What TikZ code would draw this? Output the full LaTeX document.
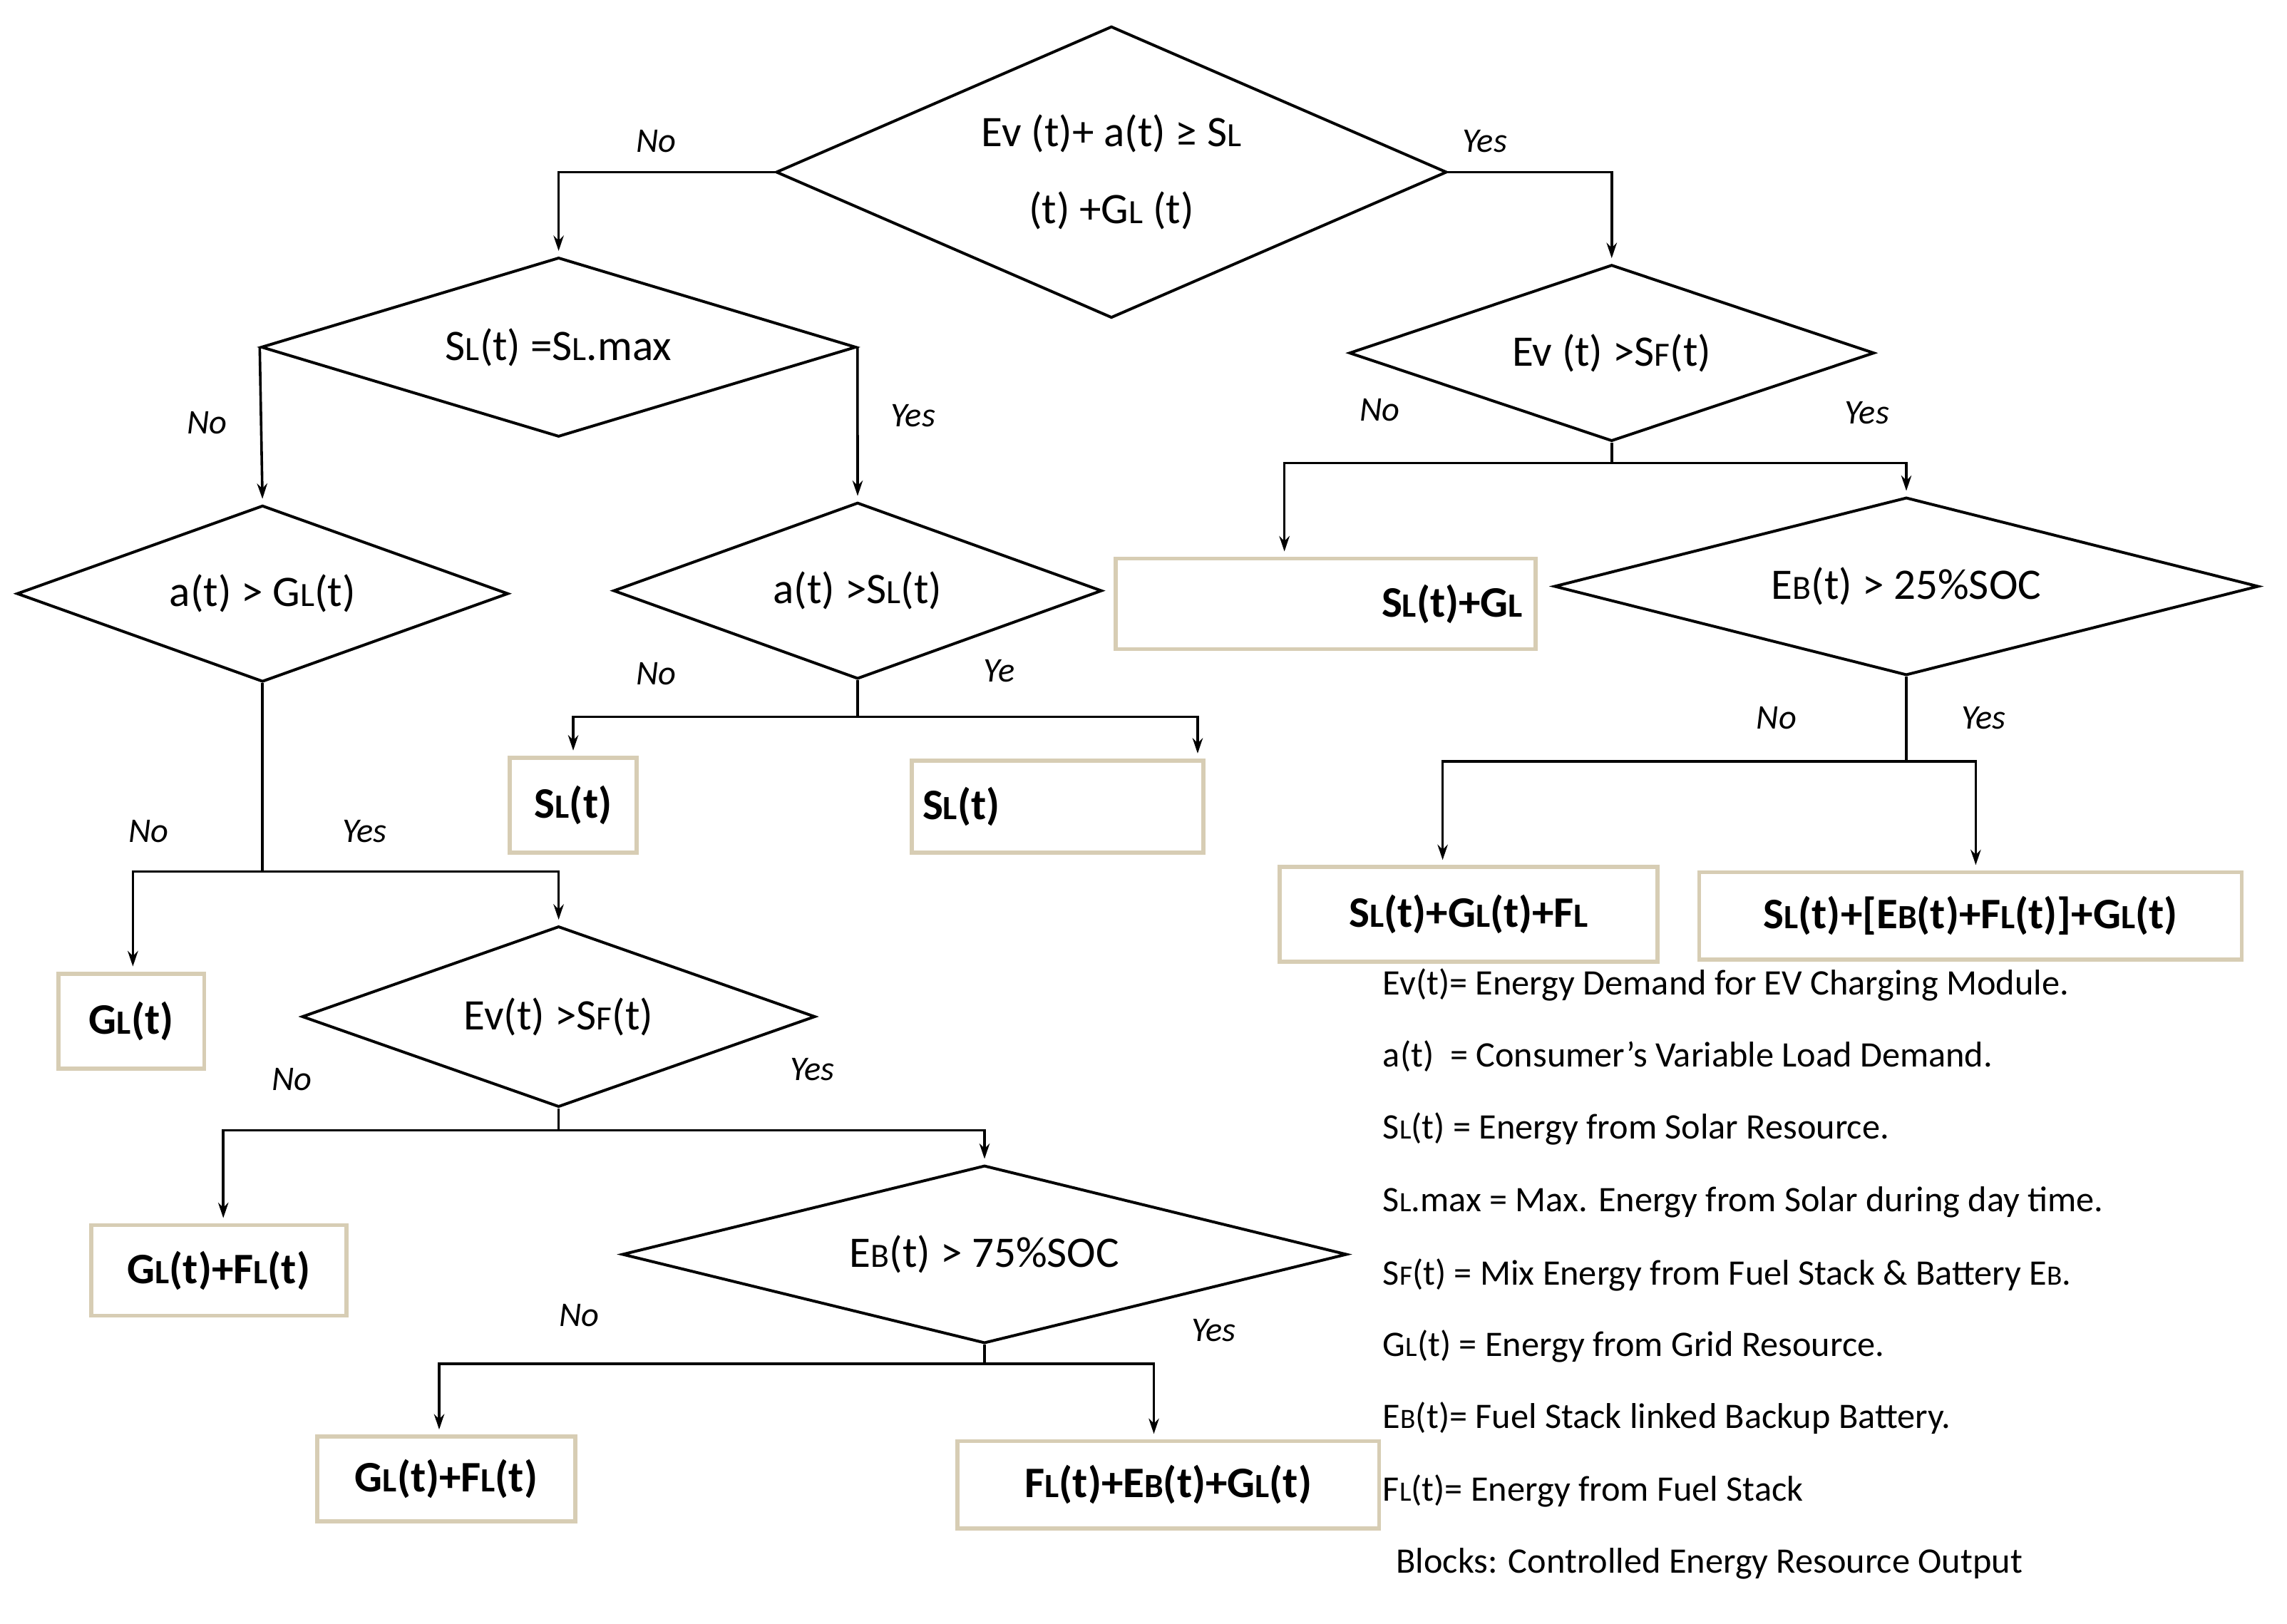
\documentclass[tikz,border=0pt]{standalone}
\usepackage{fontspec}
\setmainfont{Carlito}
\usetikzlibrary{arrows.meta, positioning, shapes.geometric}
\newcommand\smc[1]{\scalebox{0.78}{#1}}
\begin{document}
\begin{tikzpicture}[x=0.02cm, y=-0.02cm,
  dia/.style={draw, diamond, line width=1.1pt, inner sep=0pt},
  txt/.style={font=\fontsize{17}{20}\selectfont, align=center},
  blk/.style={draw={rgb,255:red,215;green,205;blue,180}, line width=1.6pt, inner sep=2pt, font=\bfseries\fontsize{17}{20}\selectfont},
  lbl/.style={font=\itshape\fontsize{13.5}{15}\selectfont},
  arr/.style={line width=1pt, -{Stealth[length=6pt,width=4pt]}, shorten >=2pt},
  ln/.style={line width=1pt},
  leg/.style={anchor=west, font=\fontsize{14}{16}\selectfont}]
\useasboundingbox (0,0) rectangle (1568,1113);

% decisions
\node[dia, minimum width=9.2cm, minimum height=4cm] (d1) at (762,118) {};
\node[txt] at (d1) {Ev (t)+ a(t) ≥ S\smc{L}\\[10pt](t) +G\smc{L} (t)};
\node[dia, minimum width=8.16cm, minimum height=2.46cm] (d2) at (383,238) {};
\node[txt] at (d2) {S\smc{L}(t) =S\smc{L}.max};
\node[dia, minimum width=6.74cm, minimum height=2.42cm] (d3) at (180,407) {};
\node[txt] at (d3) {a(t) > G\smc{L}(t)};
\node[dia, minimum width=6.7cm, minimum height=2.42cm] (d4) at (588,405) {};
\node[txt] at (d4) {a(t) >S\smc{L}(t)};
\node[dia, minimum width=7.04cm, minimum height=2.48cm] (d5) at (383,697) {};
\node[txt] at (d5) {Ev(t) >S\smc{F}(t)};
\node[dia, minimum width=9.94cm, minimum height=2.44cm] (d6) at (675,860) {};
\node[txt] at (d6) {E\smc{B}(t) > 75\%SOC};
\node[dia, minimum width=7.2cm, minimum height=2.42cm] (d7) at (1105,242) {};
\node[txt] at (d7) {Ev (t) >S\smc{F}(t)};
\node[dia, minimum width=9.66cm, minimum height=2.44cm] (d8) at (1307,402) {};
\node[txt] at (d8) {E\smc{B}(t) > 25\%SOC};

% output blocks
\node[blk, minimum width=1.74cm, minimum height=1.3cm] (b1) at (393,552) {S\smc{L}(t)};
\node[blk, minimum width=4cm, minimum height=1.26cm, text width=3.7cm, align=left] (b2) at (725,553) {S\smc{L}(t)};
\node[blk, minimum width=2cm, minimum height=1.3cm] (b3) at (90,700) {G\smc{L}(t)};
\node[blk, minimum width=3.5cm, minimum height=1.24cm] (b4) at (150,871) {G\smc{L}(t)+F\smc{L}(t)};
\node[blk, minimum width=3.54cm, minimum height=1.16cm] (b5) at (306,1014) {G\smc{L}(t)+F\smc{L}(t)};
\node[blk, minimum width=5.78cm, minimum height=1.2cm] (b6) at (801,1018) {F\smc{L}(t)+E\smc{B}(t)+G\smc{L}(t)};
\node[blk, minimum width=5.76cm, minimum height=1.24cm, text width=5.4cm, align=right] (b7) at (909,414) {S\smc{L}(t)+G\smc{L}\hspace*{1.4cm}};
\node[blk, minimum width=5.18cm, minimum height=1.3cm] (b8) at (1007,627) {S\smc{L}(t)+G\smc{L}(t)+F\smc{L}};
\node[blk, minimum width=7.44cm, minimum height=1.2cm] (b9) at (1351,628) {S\smc{L}(t)+[E\smc{B}(t)+F\smc{L}(t)]+G\smc{L}(t)};

% connectors
\draw[arr] (d1.west) -| (d2.north);
\draw[arr] (d1.east) -| (d7.north);
\draw[arr] (d2.west) -- (d3.north);
\draw[arr] (d2.east) -- (d4.north);
\draw[ln] (d4.south) -- ++(0,25) coordinate (j4);
\draw[arr] (j4) -| (b1.north);
\draw[arr] (j4) -| ([xshift=-3pt]b2.north east);
\draw[ln] (d3.south) -- ++(0,129) coordinate (j3);
\draw[arr] (j3) -| ([xshift=1.05cm]b3.north west);
\draw[arr] (j3) -| (d5.north);
\draw[ln] (d5.south) -- ++(0,15) coordinate (j5);
\draw[arr] (j5) -| ([xshift=1.84cm]b4.north west) ;
\draw[arr] (j5) -| (d6.north);
\draw[ln] (d6.south) -- ++(0,13) coordinate (j6);
\draw[arr] (j6) -| ([xshift=1.7cm]b5.north west);
\draw[arr] (j6) -| ([xshift=2.72cm]b6.north west);
\draw[ln] (d7.south) -- ++(0,14) coordinate (j7);
\draw[arr] (j7) -| ([xshift=2.34cm]b7.north west);
\draw[arr] (j7) -| (d8.north);
\draw[ln] (d8.south) -- ++(0,58) coordinate (j8);
\draw[arr] (j8) -| ([xshift=2.26cm]b8.north west);
\draw[arr] (j8) -| ([xshift=3.82cm]b9.north west);

% branch labels
\node[lbl] at (450,97) {No};
\node[lbl] at (1018,97) {Yes};
\node[lbl] at (142,290) {No};
\node[lbl] at (626,285) {Yes};
\node[lbl] at (450,462) {No};
\node[lbl] at (685,460) {Ye};
\node[lbl] at (102,570) {No};
\node[lbl] at (250,570) {Yes};
\node[lbl] at (200,740) {No};
\node[lbl] at (557,733) {Yes};
\node[lbl] at (397,902) {No};
\node[lbl] at (832,912) {Yes};
\node[lbl] at (946,281) {No};
\node[lbl] at (1280,283) {Yes};
\node[lbl] at (1218,492) {No};
\node[lbl] at (1360,492) {Yes};

% legend
\node[leg] (l1) at (942,675) {Ev(t)= Energy Demand for EV Charging Module.};
\node[leg] (l2) at (942,724) {a(t)\ \ = Consumer’s Variable Load Demand.};
\node[leg] (l3) at (942,774) {S\smc{L}(t) = Energy from Solar Resource.};
\node[leg] (l4) at (942,824) {S\smc{L}.max = Max. Energy from Solar during day time.};
\node[leg] (l5) at (942,874) {S\smc{F}(t) = Mix Energy from Fuel Stack \& Battery E\smc{B}.};
\node[leg] (l6) at (942,923) {G\smc{L}(t) = Energy from Grid Resource.};
\node[leg] (l7) at (942,972) {E\smc{B}(t)= Fuel Stack linked Backup Battery.};
\node[leg] (l8) at (942,1022) {F\smc{L}(t)= Energy from Fuel Stack};
\node[leg] (l9) at (951,1072) {Blocks: Controlled Energy Resource Output};
\end{tikzpicture}
\end{document}
